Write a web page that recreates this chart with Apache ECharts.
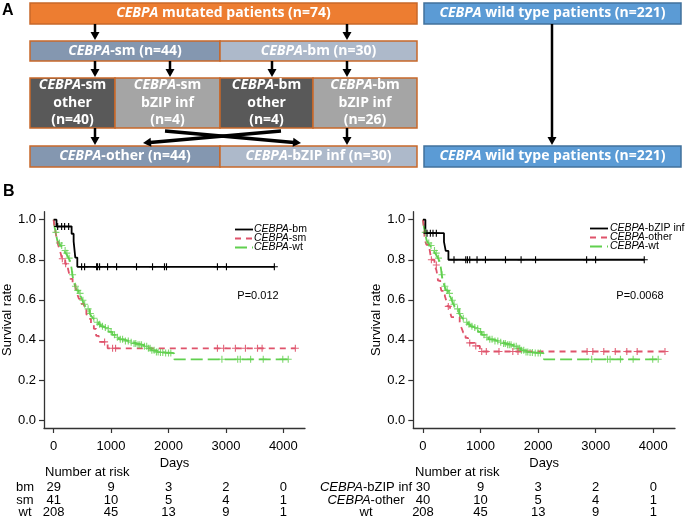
<!DOCTYPE html>
<html><head><meta charset="utf-8">
<script src="https://cdn.jsdelivr.net/npm/echarts@6/dist/echarts.min.js"></script>
<style>html,body{margin:0;padding:0;background:#fff}#c{width:685px;height:521px}</style>
</head><body><div id="c"></div>
<script>
// ================= DATA =================
const gene = 'CEBPA';
const nMut = 74, nWt = 221, nSm = 44, nBm = 30;
const nSmOther = 40, nSmBzip = 4, nBmOther = 4, nBmBzip = 26;
const nOther = 44, nBzip = 30;

const xTicks = [0, 1000, 2000, 3000, 4000];
const yTicks = [0, 0.2, 0.4, 0.6, 0.8, 1.0];

// Left panel: CEBPA-bm
const bmTimes = [0, 50, 313, 348, 377, 412, 3843];
const bmSurv  = [1.0, 0.966, 0.930, 0.892, 0.811, 0.765, 0.765];
const bmCensor = [70, 139, 191, 261, 487, 539, 748, 765, 800, 939, 1096, 1443, 1722, 1930, 1965, 2852, 3009, 3843];

// Left panel: CEBPA-sm
const smTimes = [0, 10, 25, 40, 55, 75, 100, 125, 145, 200, 250, 270, 290, 330, 380, 410, 440, 480, 530, 570, 600, 650, 700, 740, 785, 940, 4209];
const smSurv  = [1.0, 0.976, 0.951, 0.927, 0.902, 0.878, 0.854, 0.829, 0.805, 0.780, 0.755, 0.730, 0.705, 0.680, 0.655, 0.630, 0.605, 0.580, 0.555, 0.530, 0.505, 0.480, 0.455, 0.420, 0.390, 0.358, 0.358];
const smCensor = [151, 209, 887, 1026, 1078, 2852, 2960, 3165, 3340, 3550, 3630, 4209];

// Wild type (both panels)
const wtTimes = [0, 10, 20, 35, 50, 64, 90, 122, 150, 179, 210, 238, 260, 283, 300, 315, 325, 340, 353, 375, 400, 435, 470, 500, 527, 555, 586, 626, 660, 687, 720, 748, 780, 817, 860, 904, 960, 1021, 1080, 1136, 1220, 1310, 1380, 1456, 1540, 1630, 1700, 1774, 1860, 1948, 2064, 2100, 4085];
const wtSurv  = [1.0, 0.976, 0.957, 0.937, 0.915, 0.896, 0.884, 0.871, 0.858, 0.846, 0.833, 0.821, 0.808, 0.796, 0.778, 0.752, 0.725, 0.703, 0.688, 0.668, 0.647, 0.632, 0.618, 0.598, 0.578, 0.566, 0.555, 0.532, 0.518, 0.508, 0.497, 0.488, 0.478, 0.468, 0.462, 0.456, 0.440, 0.425, 0.413, 0.403, 0.395, 0.388, 0.382, 0.376, 0.368, 0.358, 0.348, 0.340, 0.337, 0.335, 0.332, 0.303, 0.303];
const wtCensor = [40, 100, 140, 200, 230, 270, 330, 380, 420, 460, 510, 540, 600, 640, 700, 760, 800, 850, 900, 950, 1000, 1060, 1110, 1160, 1200, 1250, 1300, 1350, 1400, 1430, 1470, 1500, 1530, 1580, 1620, 1650, 1680, 1710, 1750, 1790, 1820, 1860, 1900, 1950, 2000, 2040, 2930, 3205, 3250, 3430, 3650, 3990, 4085];

// Right panel: CEBPA-bZIP inf
const bzTimes = [0, 42, 365, 395, 442, 3843];
const bzSurv  = [1.0, 0.933, 0.889, 0.844, 0.800, 0.800];
const bzCensor = [70, 128, 174, 232, 539, 743, 772, 812, 939, 1085, 1433, 1704, 1955, 2842, 2998, 3843];

// Right panel: CEBPA-other
const otTimes = [0, 10, 20, 25, 29, 60, 116, 130, 145, 200, 233, 250, 261, 300, 320, 380, 407, 430, 470, 494, 638, 667, 700, 740, 783, 900, 988, 4203];
const otSurv  = [1.0, 0.975, 0.950, 0.925, 0.900, 0.875, 0.850, 0.825, 0.800, 0.774, 0.748, 0.722, 0.696, 0.670, 0.645, 0.619, 0.593, 0.567, 0.540, 0.514, 0.488, 0.462, 0.436, 0.410, 0.385, 0.370, 0.342, 0.342];
const otCensor = [146, 232, 440, 812, 917, 1020, 1100, 1320, 1560, 1650, 2850, 2950, 3140, 3340, 3540, 3720, 4203];

// Numbers at risk
const riskLeftLabels = ['bm', 'sm', 'wt'];
const riskLeft = [[29, 9, 3, 2, 0], [41, 10, 5, 4, 1], [208, 45, 13, 9, 1]];
const riskRightLabels = ['{i|CEBPA}-bZIP inf', '{i|CEBPA}-other', 'wt'];
const riskRight = [[30, 9, 3, 2, 0], [40, 10, 5, 4, 1], [208, 45, 13, 9, 1]];

const legendLeft = ['bm', 'sm', 'wt'];
const legendRight = ['bZIP inf', 'other', 'wt'];
const pLeft = 'P=0.012', pRight = 'P=0.0068';

// ================= CHART =================
const FF = 'Liberation Sans, Arial, sans-serif';
const FA = 'Open Sans, sans-serif';
const C_BLACK = '#000000', C_RED = '#DF536B', C_GREEN = '#61D04F';
const DASH = { solid: null, red: [6, 5], green: [12, 5] };
const PLUS = 'path://M-0.16,-1H0.16V-0.16H1V0.16H0.16V1H-0.16V0.16H-1V-0.16H-0.16Z';

function stepAt(t, times, surv) {
  let s = surv[0];
  for (let i = 0; i < times.length; i++) if (times[i] <= t) s = surv[i];
  return s;
}
function kmLine(name, times, surv, color, dash, g) {
  return { type: 'line', name, xAxisIndex: g, yAxisIndex: g, step: 'end', symbol: 'none',
    silent: true, z: 2, data: times.map((t, i) => [t, surv[i]]),
    lineStyle: { color, width: 1.8, type: dash || 'solid' }, itemStyle: { color } };
}
function kmCens(name, cens, times, surv, color, g, op) {
  return { type: 'scatter', name: name + '_c', xAxisIndex: g, yAxisIndex: g, symbol: PLUS,
    symbolSize: 7, silent: true, z: 3, data: cens.map(t => [t, stepAt(t, times, surv)]),
    itemStyle: { color, opacity: op } };
}
function xAx(g) {
  return { type: 'value', gridIndex: g, min: -168, max: 4377, name: 'Days', nameLocation: 'middle',
    nameGap: 29, nameTextStyle: { fontFamily: FF, fontSize: 13, color: '#000' },
    axisLine: { onZero: false, lineStyle: { color: '#333', width: 1.3 } },
    axisTick: { customValues: xTicks, length: 5, lineStyle: { color: '#333', width: 1.2 } },
    axisLabel: { customValues: xTicks, margin: 12, fontFamily: FF, fontSize: 13, color: '#000',
      formatter: v => String(v) },
    splitLine: { show: false } };
}
function yAx(g) {
  return { type: 'value', gridIndex: g, min: -0.04, max: 1.04, name: 'Survival rate', nameLocation: 'middle',
    nameGap: 30, nameRotate: 90, nameTextStyle: { fontFamily: FF, fontSize: 13, color: '#000' },
    axisLine: { show: true, onZero: false, lineStyle: { color: '#333', width: 1.3 } },
    axisTick: { show: true, customValues: yTicks, length: 5, lineStyle: { color: '#333', width: 1.2 } },
    axisLabel: { customValues: yTicks, margin: 8, fontFamily: FF, fontSize: 13, color: '#000',
      formatter: v => v.toFixed(1) },
    splitLine: { show: false } };
}

// ---- Panel A diagram ----
function box(x, y, w, h, fill, stroke, text, fs, lh) {
  const rs = { fontFamily: FA, fontSize: fs, fontWeight: 'bold', fontStyle: 'italic', fill: '#fff', lineHeight: lh };
  return [
    { type: 'rect', shape: { x, y, width: w, height: h }, style: { fill, stroke, lineWidth: 1.5 }, silent: true },
    { type: 'text', x: x + w / 2, y: y + h / 2, silent: true,
      style: { text, fill: '#fff', fontFamily: FA, fontSize: fs, fontWeight: 'bold', lineHeight: lh,
        align: 'center', verticalAlign: 'middle', rich: { i: rs } } }
  ];
}
function arrow(x1, y1, x2, y2, w) {
  const dx = x2 - x1, dy = y2 - y1, L = Math.hypot(dx, dy), ux = dx / L, uy = dy / L;
  const hl = 8, hw = 4.5;
  const bx = x2 - ux * hl, by = y2 - uy * hl;
  return [
    { type: 'line', shape: { x1, y1, x2: bx + ux, y2: by + uy }, style: { stroke: '#000', lineWidth: w }, silent: true },
    { type: 'polygon', shape: { points: [[x2, y2], [bx - uy * hw, by + ux * hw], [bx + uy * hw, by - ux * hw]] },
      style: { fill: '#000' }, silent: true }
  ];
}
const I = '{i|' + gene + '}';
const O_ST = '#C8682A', B_ST = '#41719C';
const FS = 14;
let G = [];
G.push({ type: 'text', x: 2, y: 11, style: { text: 'A', fontFamily: FF, fontSize: 16, fontWeight: 'bold', fill: '#000', verticalAlign: 'middle' } });
G.push({ type: 'text', x: 3, y: 192, style: { text: 'B', fontFamily: FF, fontSize: 16, fontWeight: 'bold', fill: '#000', verticalAlign: 'middle' } });
G = G.concat(
  box(30, 3, 387, 21, '#ED7D31', O_ST, I + ' mutated patients (n=' + nMut + ')', FS, 18),
  box(424, 3, 257, 21, '#5B9BD5', B_ST, I + ' wild type patients (n=' + nWt + ')', FS, 18),
  box(30, 41, 190, 20, '#8497B0', O_ST, I + '-sm (n=' + nSm + ')', FS, 18),
  box(220, 41, 197, 20, '#ADB9CA', O_ST, I + '-bm (n=' + nBm + ')', FS, 18),
  box(30, 78, 85, 50, '#595959', O_ST, I + '-sm\nother\n(n=' + nSmOther + ')', FS, 17.5),
  box(115, 78, 105, 50, '#A5A5A5', O_ST, I + '-sm\nbZIP inf\n(n=' + nSmBzip + ')', FS, 17.5),
  box(220, 78, 93, 50, '#595959', O_ST, I + '-bm\nother\n(n=' + nBmOther + ')', FS, 17.5),
  box(313, 78, 104, 50, '#A5A5A5', O_ST, I + '-bm\nbZIP inf\n(n=' + nBmBzip + ')', FS, 17.5),
  box(30, 146, 190, 21, '#8497B0', O_ST, I + '-other (n=' + nOther + ')', FS, 18),
  box(220, 146, 197, 21, '#ADB9CA', O_ST, I + '-bZIP inf (n=' + nBzip + ')', FS, 18),
  box(424, 146, 257, 21, '#5B9BD5', B_ST, I + ' wild type patients (n=' + nWt + ')', FS, 18),
  arrow(95, 24, 95, 40, 2.5), arrow(347, 24, 347, 40, 2.5),
  arrow(95, 61, 95, 77, 2.5), arrow(170, 61, 170, 77, 2.5), arrow(272, 61, 272, 77, 2.5), arrow(347, 61, 347, 77, 2.5),
  arrow(95, 128, 95, 145, 2.5), arrow(347, 128, 347, 145, 2.5),
  arrow(552, 24, 552, 145, 2.5),
  arrow(165, 131, 301, 143, 3.5), arrow(281, 131, 143, 143, 3.5)
);
G.push({ type: 'text', x: 258, y: 296, style: { text: pLeft, fontFamily: FF, fontSize: 11, fill: '#000', align: 'center', verticalAlign: 'middle' } });
G.push({ type: 'text', x: 640, y: 296, style: { text: pRight, fontFamily: FF, fontSize: 11, fill: '#000', align: 'center', verticalAlign: 'middle' } });

// ---- legends (line samples + labels) ----
function legend(names, x0, x1, tx, y0) {
  const cols = [C_BLACK, C_RED, C_GREEN], dashes = [DASH.solid, DASH.red, DASH.green];
  const out = [];
  names.forEach((n, k) => {
    const y = y0 + k * 9;
    out.push({ type: 'line', silent: true, shape: { x1: x0, y1: y, x2: x1, y2: y },
      style: { stroke: cols[k], lineWidth: 1.8, lineDash: dashes[k] } });
    out.push({ type: 'text', x: tx, y, silent: true,
      style: { text: '{i|' + gene + '}-' + n, fontFamily: FF, fontSize: 10.5, fill: '#000', verticalAlign: 'middle',
        rich: { i: { fontFamily: FF, fontSize: 10.5, fontStyle: 'italic', fill: '#000' } } } });
  });
  return out;
}
G = G.concat(legend(legendLeft, 235, 253, 254, 229.5), legend(legendRight, 590, 608, 610, 228.5));

const chart = echarts.init(document.getElementById('c'), null, { renderer: 'canvas' });
const option = {
  animation: false,
  backgroundColor: '#fff',
  grid: [
    { left: 43.5, top: 211.7, width: 261.5, height: 216.3 },
    { left: 413.3, top: 211.7, width: 261.7, height: 216.3 }
  ],
  xAxis: [xAx(0), xAx(1)],
  yAxis: [yAx(0), yAx(1)],
  series: [
    kmLine('CEBPA-wt', wtTimes, wtSurv, C_GREEN, DASH.green, 0),
    kmLine('CEBPA-sm', smTimes, smSurv, C_RED, DASH.red, 0),
    kmLine('CEBPA-bm', bmTimes, bmSurv, C_BLACK, DASH.solid, 0),
    kmCens('wtL', wtCensor, wtTimes, wtSurv, C_GREEN, 0, 0.8),
    kmCens('smL', smCensor, smTimes, smSurv, C_RED, 0, 0.9),
    kmCens('bmL', bmCensor, bmTimes, bmSurv, C_BLACK, 0, 1),
    kmLine('CEBPA-wt', wtTimes, wtSurv, C_GREEN, DASH.green, 1),
    kmLine('CEBPA-other', otTimes, otSurv, C_RED, DASH.red, 1),
    kmLine('CEBPA-bZIP inf', bzTimes, bzSurv, C_BLACK, DASH.solid, 1),
    kmCens('wtR', wtCensor, wtTimes, wtSurv, C_GREEN, 1, 0.8),
    kmCens('otR', otCensor, otTimes, otSurv, C_RED, 1, 0.9),
    kmCens('bzR', bzCensor, bzTimes, bzSurv, C_BLACK, 1, 1)
  ],
  graphic: G
};
chart.setOption(option);

// ---- Numbers at risk, aligned through the axis scales ----
const rowsY = [487, 500, 512];
const R = [];
function txt(x, y, text, align) {
  return { type: 'text', x, y, silent: true,
    style: { text, fontFamily: FF, fontSize: 13, fill: '#000', align, verticalAlign: 'middle',
      rich: { i: { fontFamily: FF, fontSize: 13, fontStyle: 'italic', fill: '#000' } } } };
}
R.push(txt(45, 472, 'Number at risk', 'left'));
R.push(txt(415, 472, 'Number at risk', 'left'));
riskLeftLabels.forEach((lab, r) => {
  R.push(txt(25, rowsY[r], lab, 'center'));
  riskLeft[r].forEach((v, k) => {
    const px = chart.convertToPixel({ gridIndex: 0 }, [xTicks[k], 0])[0];
    R.push(txt(px, rowsY[r], String(v), 'center'));
  });
});
riskRightLabels.forEach((lab, r) => {
  R.push(txt(366, rowsY[r], lab, 'center'));
  riskRight[r].forEach((v, k) => {
    const px = chart.convertToPixel({ gridIndex: 1 }, [xTicks[k], 0])[0];
    R.push(txt(px, rowsY[r], String(v), 'center'));
  });
});
chart.setOption({ graphic: G.concat(R) });
</script></body></html>
